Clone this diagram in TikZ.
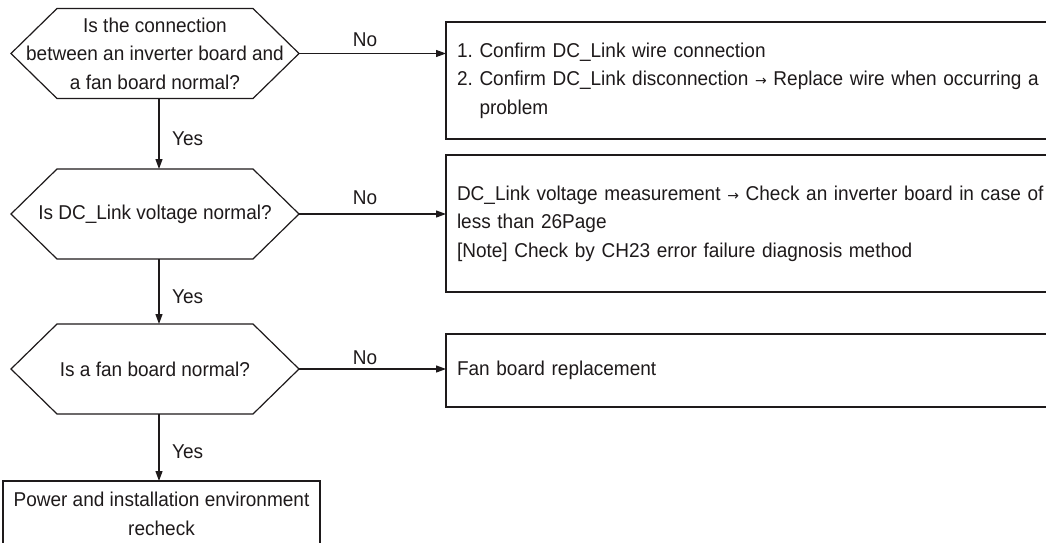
\documentclass[tikz,border=0pt]{standalone}
\usepackage{fontspec}
\setmainfont{Liberation Sans}[FakeStretch=0.95]
\newfontfamily\arrfont{DejaVu Sans}
\usetikzlibrary{arrows.meta}
\definecolor{ink}{HTML}{1E1A1B}
\newcommand{\smallarr}{{\arrfont\fontsize{14}{14}\selectfont →}}
\begin{document}
\frenchspacing
\begin{tikzpicture}[x=1pt,y=-1pt,
  every node/.style={text=ink, font=\fontsize{20}{28.5}\selectfont\frenchspacing},
  ln/.style={draw=ink, line width=1.2pt},
  arr/.style={ln, -{Triangle[length=10pt,width=7pt]}},
  hexnode/.style={inner sep=0pt, outer sep=0pt, minimum width=288pt, minimum height=90pt, align=center},
  actbox/.style={ln, rectangle, inner xsep=11pt, inner ysep=0pt, outer sep=0pt, text width=640pt, align=left},
  endbox/.style={ln, rectangle, inner sep=0pt, outer sep=0pt, minimum width=317pt, minimum height=66pt, align=center},
  lbl/.style={inner sep=0pt, anchor=base},
  ylbl/.style={inner sep=0pt, anchor=base west}]
\useasboundingbox (0,0) rectangle (1046,543);
\clip (0,0) rectangle (1046,543);
\fill[white] (0,0) rectangle (1046,543);

% decisions
\node[hexnode] (h1) at (155,53.5) {Is the connection\\between an inverter board and\\a fan board normal?};
\node[hexnode] (h2) at (155,214) {Is DC\_Link voltage normal?};
\node[hexnode] (h3) at (155,369) {Is a fan board normal?};
\foreach \h in {h1,h2,h3}
  \draw[ln, line join=miter] (\h.west) -- ([xshift=46pt]\h.north west) -- ([xshift=-46pt]\h.north east)
     -- (\h.east) -- ([xshift=-46pt]\h.south east) -- ([xshift=46pt]\h.south west) -- cycle;

% action boxes
\node[actbox, anchor=north west, minimum height=117pt] (b1) at (446,22)
  {1. Confirm DC\_Link wire connection\\
   2. Confirm DC\_Link disconnection \smallarr{} Replace wire when occurring a\\
   \phantom{2. }problem};
\node[actbox, anchor=north west, minimum height=137pt] (b2) at (446,155)
  {DC\_Link voltage measurement \smallarr{} Check an inverter board in case of\\
   less than 26Page\\{}%
   [Note] Check by CH23 error failure diagnosis method};
\node[actbox, anchor=north west, minimum height=73pt] (b3) at (446,334)
  {Fan board replacement};
\node[endbox] (b4) at (161.5,514) {Power and installation environment\\recheck};

% No connectors
\draw[arr] (h1.east) -- (h1.east -| b1.west);
\draw[arr] (h2.east) -- (h2.east -| b2.west);
\draw[arr] (h3.east) -- (h3.east -| b3.west);
\node[lbl] (n1) at (365,47) {No};
\node[lbl] (n2) at (365,204) {No};
\node[lbl] (n3) at (365,364) {No};

% Yes connectors
\draw[arr] ([xshift=4pt]h1.south) -- ([xshift=4pt]h1.south |- h2.north);
\draw[arr] ([xshift=4pt]h2.south) -- ([xshift=4pt]h2.south |- h3.north);
\draw[arr] ([xshift=4pt]h3.south) -- ([xshift=4pt]h3.south |- b4.north);
\node[ylbl] (y1) at (172,145) {Yes};
\node[ylbl] (y2) at (172,303) {Yes};
\node[ylbl] (y3) at (172,458) {Yes};
\end{tikzpicture}
\end{document}
